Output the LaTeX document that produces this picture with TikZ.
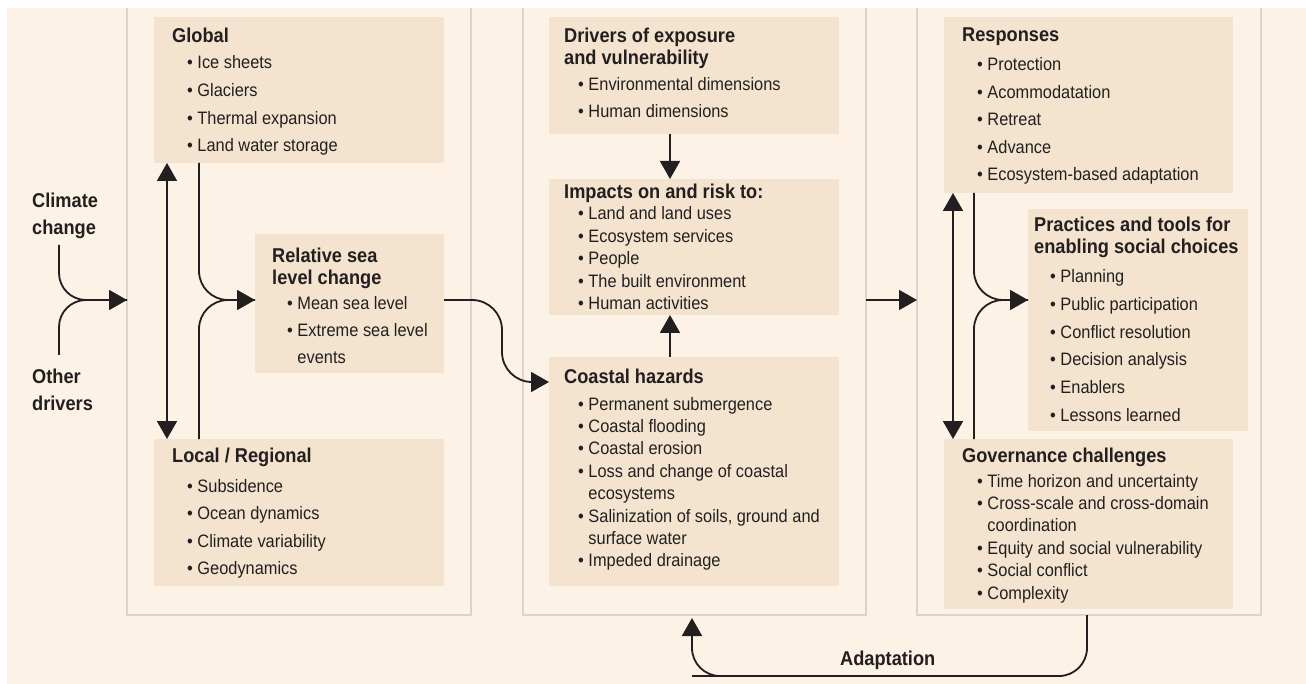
\documentclass[tikz,border=0pt]{standalone}
\usepackage{fontspec}
\setmainfont{Liberation Sans}[FakeStretch=0.91]
\usetikzlibrary{arrows.meta}
\definecolor{bg}{HTML}{FCF2E6}
\definecolor{boxc}{HTML}{F4E4CF}
\definecolor{pan}{HTML}{D9D4CD}
\definecolor{ink}{HTML}{231F20}
\newcommand\bl{\textbullet\ }
\newcommand\cb{\phantom{\textbullet\ }}
\newcommand\blist[5]{%
  \foreach [count=\k from 0] \t in {#4} {\node[it] (#5-\k) at ({#1},{#2+\k*#3}) {\t};}}
\tikzset{
  ibox/.style={fill=boxc, draw=none, anchor=north west, inner sep=0pt, outer sep=0pt},
  panel/.style={draw=none, anchor=north west, inner sep=0pt, outer sep=0pt},
  pline/.style={draw=pan, line width=2pt},
  hd/.style={anchor=base west, inner sep=0pt, font=\fontsize{20}{22}\selectfont\bfseries, text=ink},
  it/.style={anchor=base west, inner sep=0pt, font=\fontsize{18}{22}\selectfont, text=ink},
  conn/.style={draw=ink, line width=1.8pt},
  tip/.style={-{Triangle[length=18pt,width=20pt]}},
  tips/.style={{Triangle[length=18pt,width=20pt]}-{Triangle[length=18pt,width=20pt]}}
}
\begin{document}
\begin{tikzpicture}[x=1pt,y=-1pt]
\useasboundingbox (0,0) rectangle (1306,684);
\fill[white] (0,0) rectangle (1306,684);
\fill[bg] (7,8) rectangle (1306,684);

% panels
\node[panel, minimum width=344pt, minimum height=607pt] (p1) at (127,8) {};
\node[panel, minimum width=343pt, minimum height=607pt] (p2) at (523,8) {};
\node[panel, minimum width=344pt, minimum height=607pt] (p3) at (917,8) {};
\foreach \p in {p1,p2,p3}
  \draw[pline] (\p.north west) |- (\p.south east) -- (\p.north east);

% inner boxes
\node[ibox, minimum width=290pt, minimum height=146pt] (global) at (154,17) {};
\node[ibox, minimum width=189pt, minimum height=139pt] (rsl) at (255,234) {};
\node[ibox, minimum width=290pt, minimum height=147pt] (local) at (154,439) {};
\node[ibox, minimum width=290pt, minimum height=117pt] (drivers) at (549,17) {};
\node[ibox, minimum width=290pt, minimum height=136pt] (impacts) at (549,179) {};
\node[ibox, minimum width=290pt, minimum height=229pt] (coastal) at (549,357) {};
\node[ibox, minimum width=289pt, minimum height=176pt] (resp) at (944,17) {};
\node[ibox, minimum width=220pt, minimum height=222pt] (prac) at (1028,209) {};
\node[ibox, minimum width=289pt, minimum height=170pt] (gov) at (944,439) {};

% left labels
\node[hd] (cc1) at (32,208) {Climate};
\node[hd] (cc2) at (32,235) {change};
\node[hd] (od1) at (32,383) {Other};
\node[hd] (od2) at (32,410) {drivers};

% texts panel 1
\node[hd] (globalH) at (172,43) {Global};
\blist{187}{69}{27.6}{\bl Ice sheets,\bl Glaciers,\bl Thermal expansion,\bl Land water storage}{globalI}
\node[hd] (rslH1) at (272,263) {Relative sea};
\node[hd] (rslH2) at (272,285) {level change};
\blist{287}{310}{26.5}{\bl Mean sea level,\bl Extreme sea level,\cb events}{rslI}
\node[hd] (localH) at (172,462) {Local / Regional};
\blist{187}{492}{27.6}{\bl Subsidence,\bl Ocean dynamics,\bl Climate variability,\bl Geodynamics}{localI}

% texts panel 2
\node[hd] (drvH1) at (564,43) {Drivers of exposure};
\node[hd] (drvH2) at (564,65) {and vulnerability};
\blist{578}{91}{27}{\bl Environmental dimensions,\bl Human dimensions}{drvI}
\node[hd] (impH) at (564,199) {Impacts on and risk to:};
\blist{578}{220}{22.5}{\bl Land and land uses,\bl Ecosystem services,\bl People,\bl The built environment,\bl Human activities}{impI}
\node[hd] (coaH) at (564,384) {Coastal hazards};
\blist{578}{410}{22.4}{\bl Permanent submergence,\bl Coastal flooding,\bl Coastal erosion,\bl Loss and change of coastal,\cb ecosystems,{\bl Salinization of soils, ground and},\cb surface water,\bl Impeded drainage}{coaI}

% texts panel 3
\node[hd] (respH) at (962,42) {Responses};
\blist{977}{71}{27.5}{\bl Protection,\bl Acommodatation,\bl Retreat,\bl Advance,\bl Ecosystem-based adaptation}{respI}
\node[hd] (pracH1) at (1034,232) {Practices and tools for};
\node[hd] (pracH2) at (1034,254) {enabling social choices};
\blist{1050}{283}{27.6}{\bl Planning,\bl Public participation,\bl Conflict resolution,\bl Decision analysis,\bl Enablers,\bl Lessons learned}{pracI}
\node[hd] (govH) at (962,462) {Governance challenges};
\blist{977}{487}{22.4}{\bl Time horizon and uncertainty,\bl Cross-scale and cross-domain,\cb coordination,\bl Equity and social vulnerability,\bl Social conflict,\bl Complexity}{govI}

\node[hd] (adapt) at (840,665) {Adaptation};

% connector end points
\coordinate (ccs) at (59,245);
\coordinate (ods) at (59,355);
\coordinate (p1in) at (p1.west |- 0,300);
\coordinate (rslin) at (rsl.west |- 0,300);
\coordinate (rslout) at (rsl.east |- 0,300);
\coordinate (coain) at (coastal.west |- 0,382);
\coordinate (sbend) at (502,382);
\coordinate (p2out) at (p2.east |- 0,300);
\coordinate (p3in) at (p3.west |- 0,300);
\coordinate (pracin) at (prac.west |- 0,300);

% connectors
\draw[conn, rounded corners=27pt] (ods) |- (p1in);
\draw[conn, tip, rounded corners=27pt] (ccs) |- (p1in);

\draw[conn, rounded corners=29pt] (global.south -| 199,0) |- (rslin);
\draw[conn, tip, rounded corners=29pt] (local.north -| 199,0) |- (rslin);
\draw[conn, tips] (global.south -| 167,0) -- (local.north -| 167,0);

\draw[conn, tip, rounded corners=30pt] (rslout) -| (sbend) -- (coain);

\draw[conn, tip] (drivers.south -| 670,0) -- (impacts.north -| 670,0);
\draw[conn, tip] (coastal.north -| 670,0) -- (impacts.south -| 670,0);

\draw[conn, tip] (p2out) -- (p3in);

\draw[conn, rounded corners=29pt] (gov.north -| 974,0) |- (pracin);
\draw[conn, tip, rounded corners=29pt] (resp.south -| 974,0) |- (pracin);
\draw[conn, tips] (resp.south -| 953,0) -- (gov.north -| 953,0);

\draw[conn, tip, rounded corners=28pt] (p3.south -| 1087,0) |- (720,676) -| ([yshift=-3pt]p2.south -| 692,0);
\end{tikzpicture}
\end{document}
